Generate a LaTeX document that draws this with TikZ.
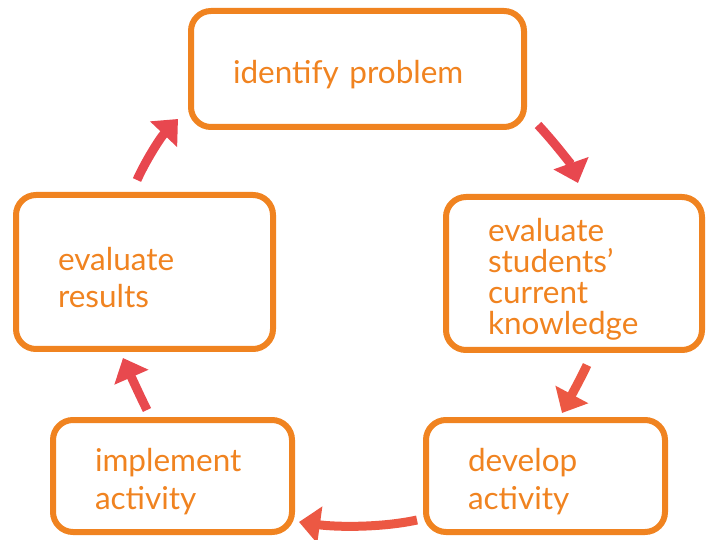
\documentclass[tikz,border=0pt]{standalone}
\usepackage{fontspec}
\setmainfont{Lato}
\usetikzlibrary{arrows.meta}
\definecolor{boxorange}{HTML}{F08320}
\definecolor{arrowred}{HTML}{E8474F}
\definecolor{arroworange}{HTML}{EC5843}
\begin{document}
\begin{tikzpicture}[x=1pt,y=-1pt,
  stepbox/.style={draw=boxorange, line width=6pt, rounded corners=20pt,
    text=boxorange, align=left, inner xsep=42pt, inner ysep=0pt,
    font=\fontsize{31.5}{37.5}\selectfont, text height=34pt},
  cyclearrow/.style={line width=9pt,
    -{Triangle[length=21pt,width=36pt]}}
]
\useasboundingbox (0,0) rectangle (713,540);

% the five stages of the cycle
\node[stepbox, minimum width=333pt, minimum height=116pt, text width=249pt]
  (identify) at (357.5,69) {identify problem};
\node[stepbox, minimum width=256pt, minimum height=153pt, text width=172pt,
  font=\fontsize{31.5}{31}\selectfont]
  (knowledge) at (574,273.5) {evaluate\\students’\\current\\knowledge};
\node[stepbox, minimum width=239pt, minimum height=112pt, text width=155pt]
  (develop) at (545.5,476) {develop\\activity};
\node[stepbox, minimum width=239pt, minimum height=112pt, text width=155pt]
  (implement) at (172.5,476) {implement\\activity};
\node[stepbox, minimum width=257pt, minimum height=154pt, text width=173pt]
  (results) at (144.5,272) {evaluate\\results};

% arrow ends between neighbouring stages
\coordinate (a1s) at (538,125);  \coordinate (a1e) at (578,183);
\coordinate (a2s) at (587,365);  \coordinate (a2e) at (562,413);
\coordinate (a3s) at (417,520);  \coordinate (a3e) at (299,522);
\coordinate (a4s) at (147,410);  \coordinate (a4e) at (123,358);
\coordinate (a5s) at (137,180);  \coordinate (a5e) at (178,119);

\draw[cyclearrow, arrowred] (a1s) .. controls (555,143) and (572,166) .. (a1e);
\draw[cyclearrow, arroworange] (a2s) .. controls (582,376) and (570,398) .. (a2e);
\draw[cyclearrow, arroworange] (a3s) .. controls (380,528) and (335,527) .. (a3e);
\draw[cyclearrow, arrowred!90!arroworange] (a4s) .. controls (140,396) and (130,374) .. (a4e);
\draw[cyclearrow, arrowred] (a5s) .. controls (145,162) and (160,138) .. (a5e);
\end{tikzpicture}
\end{document}
